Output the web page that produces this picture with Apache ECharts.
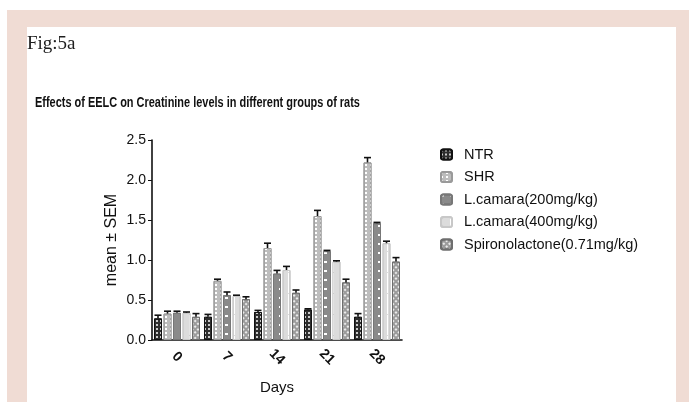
<!DOCTYPE html>
<html>
<head>
<meta charset="utf-8">
<script src="https://cdn.jsdelivr.net/npm/echarts@6/dist/echarts.min.js"></script>
<style>
  html, body { margin: 0; padding: 0; background: #fff; }
  #main { width: 689px; height: 402px; }
</style>
</head>
<body>
<div id="main"></div>
<script>
// days on x axis
var days = ['0', '7', '14', '21', '28'];

// creatinine means (mg/dl) per group
var ntr = [0.27, 0.29, 0.35, 0.38, 0.29];
var shr = [0.33, 0.74, 1.15, 1.55, 2.22];
var lc200 = [0.34, 0.56, 0.83, 1.11, 1.46];
var lc400 = [0.34, 0.55, 0.875, 0.98, 1.21];
var spiro = [0.29, 0.51, 0.59, 0.72, 0.98];

// SEM per group
var ntrErr = [0.04, 0.03, 0.02, 0.01, 0.04];
var shrErr = [0.03, 0.02, 0.06, 0.07, 0.06];
var lc200Err = [0.02, 0.04, 0.04, 0.01, 0.01];
var lc400Err = [0.01, 0.01, 0.045, 0.01, 0.025];
var spiroErr = [0.04, 0.03, 0.035, 0.04, 0.05];

var names = ['NTR', 'SHR', 'L.camara(200mg/kg)', 'L.camara(400mg/kg)', 'Spironolactone(0.71mg/kg)'];
var titleText = 'Effects of EELC on Creatinine levels in different groups of rats';

var BAR_W = 8, BAR_GAP = 1.5;

var groups = [ntr, shr, lc200, lc400, spiro];
var errs = [ntrErr, shrErr, lc200Err, lc400Err, spiroErr];

var colors = ['#2e2e2e', '#bdbdbd', '#8a8a8a', '#dcdcdc', '#9c9c9c'];
var borders = ['#111', '#9a9a9a', '#777', '#c8c8c8', '#6e6e6e'];
var decals = [
  {symbol: 'rect', symbolSize: 1, color: 'rgba(255,255,255,0.75)', dashArrayX: [1.5, 1.5], dashArrayY: [1.5, 1.5]},
  {symbol: 'rect', symbolSize: 1, color: '#fff', dashArrayX: [2, 3], dashArrayY: [2, 2]},
  {symbol: 'rect', symbolSize: 1, color: '#fff', dashArrayX: [3, 6], dashArrayY: [1.5, 7]},
  {symbol: 'rect', symbolSize: 1, color: '#fff', dashArrayX: [1, 8], dashArrayY: [20, 1]},
  {symbol: 'rect', symbolSize: 1, color: 'rgba(255,255,255,0.8)', dashArrayX: [2, 1.5], dashArrayY: [2, 1.5], rotation: Math.PI / 4}
];

var errData = [];
groups.forEach(function (g, gi) {
  g.forEach(function (v, i) {
    errData.push([i, v, errs[gi][i], gi]);
  });
});

var series = groups.map(function (g, gi) {
  return {
    name: names[gi],
    type: 'bar',
    barWidth: BAR_W,
    barGap: (BAR_GAP / BAR_W * 100) + '%',
    itemStyle: {color: colors[gi], borderColor: borders[gi], borderWidth: 1, decal: decals[gi]},
    data: g
  };
});

// error bars (upper half only, with cap)
series.push({
  type: 'custom',
  data: errData,
  encode: {x: 0, y: 1},
  z: 5,
  silent: true,
  renderItem: function (params, api) {
    var cat = api.value(0), v = api.value(1), e = api.value(2), gi = api.value(3);
    var base = api.coord([cat, v]);
    var top = api.coord([cat, v + e]);
    var total = 5 * BAR_W + 4 * BAR_GAP;
    var x = base[0] - total / 2 + gi * (BAR_W + BAR_GAP) + BAR_W / 2;
    var st = {stroke: '#111', lineWidth: 1.6};
    return {
      type: 'group',
      children: [
        {type: 'line', shape: {x1: x, y1: base[1], x2: x, y2: top[1]}, style: st},
        {type: 'line', shape: {x1: x - 3.5, y1: top[1], x2: x + 3.5, y2: top[1]}, style: st}
      ]
    };
  }
});

var myChart = echarts.init(document.getElementById('main'));

var option = {
  backgroundColor: '#fff',
  animation: false,
  graphic: [
    {type: 'rect', z: -10, shape: {x: 7, y: 10, width: 682, height: 392}, style: {fill: '#f0dcd4'}},
    {type: 'rect', z: -9, shape: {x: 27, y: 27, width: 649, height: 375}, style: {fill: '#fff'}},
    {type: 'text', x: 27, y: 35, style: {text: 'Fig:5a', fill: '#1e1e1e', font: '19px "Liberation Serif"'}},
    // title squeezed horizontally like the source figure
    {type: 'text', x: 35, y: 95, scaleX: 0.73, style: {text: titleText, fill: '#111', font: 'bold 15px "Liberation Sans"'}}
  ],
  legend: {
    data: names,
    orient: 'vertical',
    left: 440,
    top: 147,
    itemWidth: 11,
    itemHeight: 10,
    itemGap: 7.5,
    padding: 0,
    textStyle: {fontFamily: '"Liberation Sans"', fontSize: 14.5, color: '#111', padding: [0, 0, 0, 7]}
  },
  grid: {left: 152, right: 287, top: 140, bottom: 62, containLabel: false},
  xAxis: {
    type: 'category',
    data: days,
    name: 'Days',
    nameLocation: 'middle',
    nameGap: 40,
    nameTextStyle: {fontFamily: '"Liberation Sans"', fontSize: 15, color: '#111'},
    axisLine: {lineStyle: {color: '#111', width: 1.6}},
    axisTick: {alignWithLabel: true, length: 6, lineStyle: {color: '#111', width: 1.5}},
    axisLabel: {rotate: -45, align: 'center', verticalAlign: 'middle', margin: 17, fontFamily: '"Liberation Sans"', fontSize: 14, fontWeight: 'bold', color: '#111'}
  },
  yAxis: {
    type: 'value',
    min: 0,
    max: 2.5,
    interval: 0.5,
    name: 'mean ± SEM',
    nameLocation: 'middle',
    nameGap: 32,
    nameTextStyle: {fontFamily: '"Liberation Sans"', fontSize: 16, color: '#111'},
    axisLine: {show: true, lineStyle: {color: '#111', width: 1.6}},
    axisTick: {show: true, length: 4, lineStyle: {color: '#111'}},
    axisLabel: {margin: 6, fontFamily: '"Liberation Sans"', fontSize: 14, color: '#111', formatter: function (v) { return v.toFixed(1); }},
    splitLine: {show: false}
  },
  series: series
};

myChart.setOption(option);
</script>
</body>
</html>
